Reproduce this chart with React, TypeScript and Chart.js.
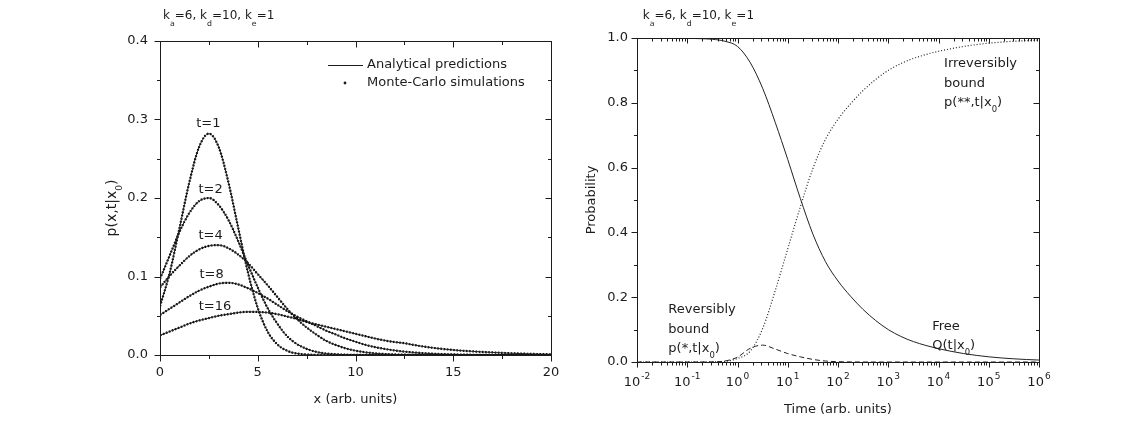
import React, { useEffect, useRef } from "react";
import { Chart, registerables } from "chart.js";

Chart.register(...registerables);

const FONT = "'DejaVu Sans', 'Liberation Sans', Arial, sans-serif";
const INK = "#1c1c1c";

// ---------- Left panel: p(x,t|x0) profiles ----------
const positions = [
  0, 0.5, 1, 1.5, 2, 2.5, 3, 3.5, 4, 4.5, 5, 5.5, 6, 6.5, 7, 7.5, 8, 8.5, 9, 9.5, 10,
  10.5, 11, 11.5, 12, 12.5, 13, 13.5, 14, 14.5, 15, 15.5, 16, 16.5, 17, 17.5, 18, 18.5, 19, 19.5, 20,
];
const profileT1 = [
  0.062, 0.105, 0.162, 0.22, 0.265, 0.282, 0.265, 0.22, 0.162, 0.105, 0.06, 0.03, 0.0136, 0.0054, 0.0019, 0.0006, 0.0002,
  0, 0, 0, 0, 0, 0, 0, 0, 0, 0, 0, 0, 0, 0, 0, 0, 0, 0, 0, 0, 0, 0, 0, 0,
];
const profileT2 = [
  0.097, 0.127, 0.157, 0.181, 0.196, 0.2, 0.191, 0.172, 0.145, 0.115, 0.086, 0.06, 0.04, 0.024, 0.014, 0.0078, 0.004,
  0.0019, 0.0009, 0.0004, 0.0002, 0, 0, 0, 0, 0, 0, 0, 0, 0, 0, 0, 0, 0, 0, 0, 0, 0, 0, 0, 0,
];
const profileT4 = [
  0.086, 0.101, 0.114, 0.126, 0.1345, 0.139, 0.14, 0.136, 0.128, 0.117, 0.103, 0.089, 0.074, 0.059, 0.046, 0.035, 0.026,
  0.018, 0.0127, 0.0084, 0.0055, 0.0034, 0.0021, 0.0012, 0.0007, 0.0004, 0.0002, 0, 0, 0, 0, 0, 0, 0, 0, 0, 0, 0, 0, 0, 0,
];
const profileT8 = [
  0.051, 0.059, 0.067, 0.075, 0.082, 0.087, 0.091, 0.092, 0.09, 0.085, 0.079, 0.072, 0.064, 0.056, 0.049, 0.043, 0.037,
  0.031, 0.026, 0.021, 0.017, 0.013, 0.01, 0.0077, 0.0058, 0.0043, 0.0032, 0.0023, 0.0016, 0.0011, 0.0008, 0.0005, 0.0003,
  0.0002, 0, 0, 0, 0, 0, 0, 0,
];
const profileT16 = [
  0.025, 0.03, 0.035, 0.04, 0.044, 0.047, 0.05, 0.052, 0.054, 0.055, 0.0548, 0.054, 0.052, 0.049, 0.046, 0.042, 0.039,
  0.036, 0.033, 0.03, 0.027, 0.024, 0.021, 0.0185, 0.0165, 0.015, 0.0127, 0.0107, 0.009, 0.0076, 0.0064, 0.0054, 0.0046,
  0.0039, 0.0033, 0.0027, 0.0022, 0.0018, 0.0014, 0.0011, 0.0009,
];
const profileNames = ["t=1", "t=2", "t=4", "t=8", "t=16"];
// label anchors in data coordinates (x, p)
const profileLabelX = [2.47, 2.59, 2.59, 2.64, 2.81];
const profileLabelY = [0.295, 0.211, 0.1525, 0.102, 0.0615];

// ---------- Right panel: probabilities vs time ----------
const times = [
  0.01, 0.01778, 0.03162, 0.05623, 0.1, 0.1778, 0.3162, 0.5623, 1, 1.778, 3.162, 5.623, 10, 17.78, 31.62, 56.23, 100,
  177.8, 316.2, 562.3, 1000, 1778, 3162, 5623, 10000, 17783, 31623, 56234, 100000, 177828, 316228, 562341, 1000000,
];
const freeQ = [
  1, 1, 1, 1, 0.999, 0.998, 0.996, 0.99, 0.974, 0.925, 0.845, 0.74, 0.625, 0.505, 0.395, 0.31, 0.25, 0.203, 0.162, 0.128,
  0.1, 0.079, 0.063, 0.051, 0.041, 0.033, 0.026, 0.0205, 0.016, 0.0125, 0.0098, 0.0077, 0.006,
];
const reversiblyBound = [
  0, 0, 0, 0, 0, 0, 0.0005, 0.003, 0.015, 0.042, 0.052, 0.04, 0.026, 0.016, 0.008, 0.003, 0.001, 0.0003, 0, 0, 0, 0, 0,
  0, 0, 0, 0, 0, 0, 0, 0, 0, 0,
];
const irreversiblyBound = [
  0, 0, 0, 0, 0, 0, 0.0003, 0.002, 0.011, 0.033, 0.103, 0.22, 0.349, 0.479, 0.597, 0.687, 0.749, 0.797, 0.838, 0.872, 0.9,
  0.921, 0.937, 0.949, 0.959, 0.967, 0.974, 0.9795, 0.984, 0.9875, 0.99, 0.992, 0.994,
];
const decadeExponents = [-2, -1, 0, 1, 2, 3, 4, 5, 6];

type Seg = { t: string; sub?: boolean };

function drawRich(
  ctx: CanvasRenderingContext2D,
  segs: Seg[],
  x: number,
  y: number,
  size: number,
  align: "left" | "center" = "left",
  subDrop = 0.45
) {
  ctx.textAlign = "left";
  ctx.textBaseline = "alphabetic";
  const base = y + size * 0.36;
  let w = 0;
  for (const s of segs) {
    ctx.font = `${s.sub ? size * 0.65 : size}px ${FONT}`;
    w += ctx.measureText(s.t).width;
  }
  let cx = align === "center" ? x - w / 2 : x;
  for (const s of segs) {
    ctx.font = `${s.sub ? size * 0.65 : size}px ${FONT}`;
    ctx.fillText(s.t, cx, s.sub ? base + size * subDrop : base);
    cx += ctx.measureText(s.t).width;
  }
}

const titleSegs: Seg[] = [
  { t: "k" }, { t: "a", sub: true }, { t: "=6, k" }, { t: "d", sub: true }, { t: "=10, k" }, { t: "e", sub: true }, { t: "=1" },
];

function line(ctx: CanvasRenderingContext2D, x1: number, y1: number, x2: number, y2: number) {
  ctx.beginPath();
  ctx.moveTo(x1, y1);
  ctx.lineTo(x2, y2);
  ctx.stroke();
}
const crisp = (v: number) => Math.round(v) + 0.5;

const leftPlugin = {
  id: "leftDecor",
  afterDraw(chart: any) {
    const { ctx, chartArea: a, scales } = chart;
    const xs = scales.x;
    const ys = scales.y;
    ctx.save();
    ctx.strokeStyle = INK;
    ctx.fillStyle = INK;
    ctx.lineWidth = 1;
    const L = crisp(a.left), R = crisp(a.right), T = crisp(a.top), B = crisp(a.bottom);
    ctx.strokeRect(L, T, R - L, B - T);
    for (let i = 0; i <= 8; i++) {
      const py = crisp(ys.getPixelForValue(i * 0.05));
      const len = i % 2 === 0 ? 6 : 3.5;
      line(ctx, L - len, py, L, py);
      line(ctx, R - len, py, R, py);
    }
    for (let i = 0; i <= 8; i++) {
      const px = crisp(xs.getPixelForValue(i * 2.5));
      const len = i % 2 === 0 ? 6 : 3.5;
      line(ctx, px, B, px, B + len);
      line(ctx, px, T, px, T + len);
    }
    // title
    drawRich(ctx, titleSegs, 163, 15, 12, "left", 0.55);
    // axis titles
    ctx.font = `13px ${FONT}`;
    ctx.textAlign = "center";
    ctx.textBaseline = "middle";
    ctx.fillText("x (arb. units)", (a.left + a.right) / 2, 400);
    ctx.save();
    ctx.translate(111, 208);
    ctx.rotate(-Math.PI / 2);
    drawRich(ctx, [{ t: "p(x,t|x" }, { t: "0", sub: true }, { t: ")" }], 0, 0, 14, "center");
    ctx.restore();
    // legend
    line(ctx, 328, 65.5, 363, 65.5);
    ctx.beginPath();
    ctx.arc(345, 83, 1.4, 0, Math.PI * 2);
    ctx.fill();
    ctx.font = `13px ${FONT}`;
    ctx.textAlign = "left";
    ctx.textBaseline = "middle";
    ctx.fillText("Analytical predictions", 367, 65);
    ctx.fillText("Monte-Carlo simulations", 367, 83);
    // curve labels
    ctx.textAlign = "center";
    profileNames.forEach((name, i) => {
      ctx.fillText(name, xs.getPixelForValue(profileLabelX[i]), ys.getPixelForValue(profileLabelY[i]));
    });
    ctx.restore();
  },
};

const rightPlugin = {
  id: "rightDecor",
  afterDraw(chart: any) {
    const { ctx, chartArea: a, scales } = chart;
    const xs = scales.x;
    const ys = scales.y;
    ctx.save();
    ctx.strokeStyle = INK;
    ctx.fillStyle = INK;
    ctx.lineWidth = 1;
    const L = crisp(a.left), R = crisp(a.right), T = crisp(a.top), B = crisp(a.bottom);
    ctx.strokeRect(L, T, R - L, B - T);
    for (let i = 0; i <= 10; i++) {
      const py = crisp(ys.getPixelForValue(i * 0.1));
      const len = i % 2 === 0 ? 6 : 3.5;
      line(ctx, L - len, py, L, py);
      line(ctx, R - len, py, R, py);
    }
    decadeExponents.forEach((k) => {
      const px = crisp(xs.getPixelForValue(Math.pow(10, k)));
      line(ctx, px, B, px, B + 5);
      line(ctx, px, T, px, T + 5);
      if (k < 6) {
        for (let m = 2; m <= 9; m++) {
          const pm = crisp(xs.getPixelForValue(m * Math.pow(10, k)));
          line(ctx, pm, B, pm, B + 3);
          line(ctx, pm, T, pm, T + 3);
        }
      }
      // tick label 10^k
      ctx.font = `13px ${FONT}`;
      const w1 = ctx.measureText("10").width;
      ctx.font = `9px ${FONT}`;
      const exp = String(k);
      const w2 = ctx.measureText(exp).width;
      const start = xs.getPixelForValue(Math.pow(10, k)) - (w1 + w2 + 1) / 2;
      ctx.textAlign = "left";
      ctx.textBaseline = "alphabetic";
      ctx.font = `13px ${FONT}`;
      ctx.fillText("10", start, 386);
      ctx.font = `9px ${FONT}`;
      ctx.fillText(exp, start + w1 + 1, 379);
    });
    // title
    drawRich(ctx, titleSegs, 62.7, 15, 12, "left", 0.55);
    ctx.font = `13px ${FONT}`;
    ctx.textAlign = "center";
    ctx.textBaseline = "middle";
    ctx.fillText("Time (arb. units)", (a.left + a.right) / 2, 410);
    ctx.save();
    ctx.translate(12, 200);
    ctx.rotate(-Math.PI / 2);
    ctx.fillText("Probability", 0, 0);
    ctx.restore();
    // annotations
    const ann = (lines: Seg[][], t: number, p: number) => {
      const x = xs.getPixelForValue(t);
      const y = ys.getPixelForValue(p);
      lines.forEach((segs, i) => drawRich(ctx, segs, x, y + i * 19.5, 13, "left"));
    };
    ann([[{ t: "Irreversibly" }], [{ t: "bound" }], [{ t: "p(**,t|x" }, { t: "0", sub: true }, { t: ")" }]], 12900, 0.924);
    ann([[{ t: "Reversibly" }], [{ t: "bound" }], [{ t: "p(*,t|x" }, { t: "0", sub: true }, { t: ")" }]], 0.042, 0.165);
    ann([[{ t: "Free" }], [{ t: "Q(t|x" }, { t: "0", sub: true }, { t: ")" }]], 7516, 0.114);
    ctx.restore();
  },
};

function leftConfig(): any {
  const profiles = [profileT1, profileT2, profileT4, profileT8, profileT16];
  const datasets: any[] = [];
  profiles.forEach((vals, i) => {
    const data = positions.map((x, j) => ({ x, y: vals[j] }));
    datasets.push({
      label: `Analytical predictions ${profileNames[i]}`,
      data,
      borderColor: "#222",
      borderWidth: 1,
      pointRadius: 0,
      cubicInterpolationMode: "monotone",
      fill: false,
    });
    datasets.push({
      label: `Monte-Carlo simulations ${profileNames[i]}`,
      data,
      borderColor: "#000",
      borderWidth: 2.2,
      borderDash: [1.6, 1.6],
      pointRadius: 0,
      cubicInterpolationMode: "monotone",
      fill: false,
    });
  });
  return {
    type: "line",
    data: { datasets },
    plugins: [leftPlugin],
    options: {
      animation: false,
      responsive: false,
      devicePixelRatio: 1,
      layout: { padding: { top: 41, right: 29, left: 0, bottom: 0 } },
      plugins: { legend: { display: false }, tooltip: { enabled: false } },
      scales: {
        x: {
          type: "linear",
          min: 0,
          max: 20,
          grid: { display: false, drawTicks: false },
          border: { display: false },
          ticks: { stepSize: 5, padding: 10, color: INK, font: { family: FONT, size: 13 }, maxRotation: 0 },
          afterFit: (s: any) => { s.height = 79; },
        },
        y: {
          type: "linear",
          min: 0,
          max: 0.4,
          grid: { display: false, drawTicks: false },
          border: { display: false },
          ticks: {
            stepSize: 0.1,
            padding: 12,
            color: INK,
            font: { family: FONT, size: 13 },
            callback: (v: any) => Number(v).toFixed(1),
          },
          afterFit: (s: any) => { s.width = 160; },
        },
      },
    },
  };
}

function rightConfig(): any {
  const mk = (vals: number[]) => times.map((t, j) => ({ x: t, y: vals[j] }));
  return {
    type: "line",
    data: {
      datasets: [
        {
          label: "Free Q(t|x0)",
          data: mk(freeQ),
          borderColor: "#222",
          borderWidth: 1,
          pointRadius: 0,
          cubicInterpolationMode: "monotone",
          fill: false,
        },
        {
          label: "Reversibly bound p(*,t|x0)",
          data: mk(reversiblyBound),
          borderColor: "#222",
          borderWidth: 1,
          borderDash: [5, 3],
          pointRadius: 0,
          cubicInterpolationMode: "monotone",
          fill: false,
        },
        {
          label: "Irreversibly bound p(**,t|x0)",
          data: mk(irreversiblyBound),
          borderColor: "#222",
          borderWidth: 1.2,
          borderDash: [1, 2],
          pointRadius: 0,
          cubicInterpolationMode: "monotone",
          fill: false,
        },
      ],
    },
    plugins: [rightPlugin],
    options: {
      animation: false,
      responsive: false,
      devicePixelRatio: 1,
      layout: { padding: { top: 38, right: 99, left: 0, bottom: 0 } },
      plugins: { legend: { display: false }, tooltip: { enabled: false } },
      scales: {
        x: {
          type: "logarithmic",
          min: 0.01,
          max: 1000000,
          grid: { display: false, drawTicks: false },
          border: { display: false },
          ticks: { display: false },
          afterFit: (s: any) => { s.height = 72; },
        },
        y: {
          type: "linear",
          min: 0,
          max: 1,
          grid: { display: false, drawTicks: false },
          border: { display: false },
          ticks: {
            stepSize: 0.2,
            padding: 9,
            color: INK,
            font: { family: FONT, size: 13 },
            callback: (v: any) => Number(v).toFixed(1),
          },
          afterFit: (s: any) => { s.width = 57; },
        },
      },
    },
  };
}

export default function App() {
  const leftRef = useRef<HTMLCanvasElement>(null);
  const rightRef = useRef<HTMLCanvasElement>(null);
  useEffect(() => {
    const c1 = new Chart(leftRef.current as HTMLCanvasElement, leftConfig());
    const c2 = new Chart(rightRef.current as HTMLCanvasElement, rightConfig());
    return () => {
      c1.destroy();
      c2.destroy();
    };
  }, []);
  return (
    <div
      style={{ position: "absolute", left: 0, top: 0, width: 1138, height: 434, background: "#fff", overflow: "hidden" }}
    >
      <canvas
        ref={leftRef}
        width={580}
        height={434}
        style={{ position: "absolute", left: 0, top: 0, width: 580, height: 434 }}
      />
      <canvas
        ref={rightRef}
        width={558}
        height={434}
        style={{ position: "absolute", left: 580, top: 0, width: 558, height: 434 }}
      />
    </div>
  );
}
